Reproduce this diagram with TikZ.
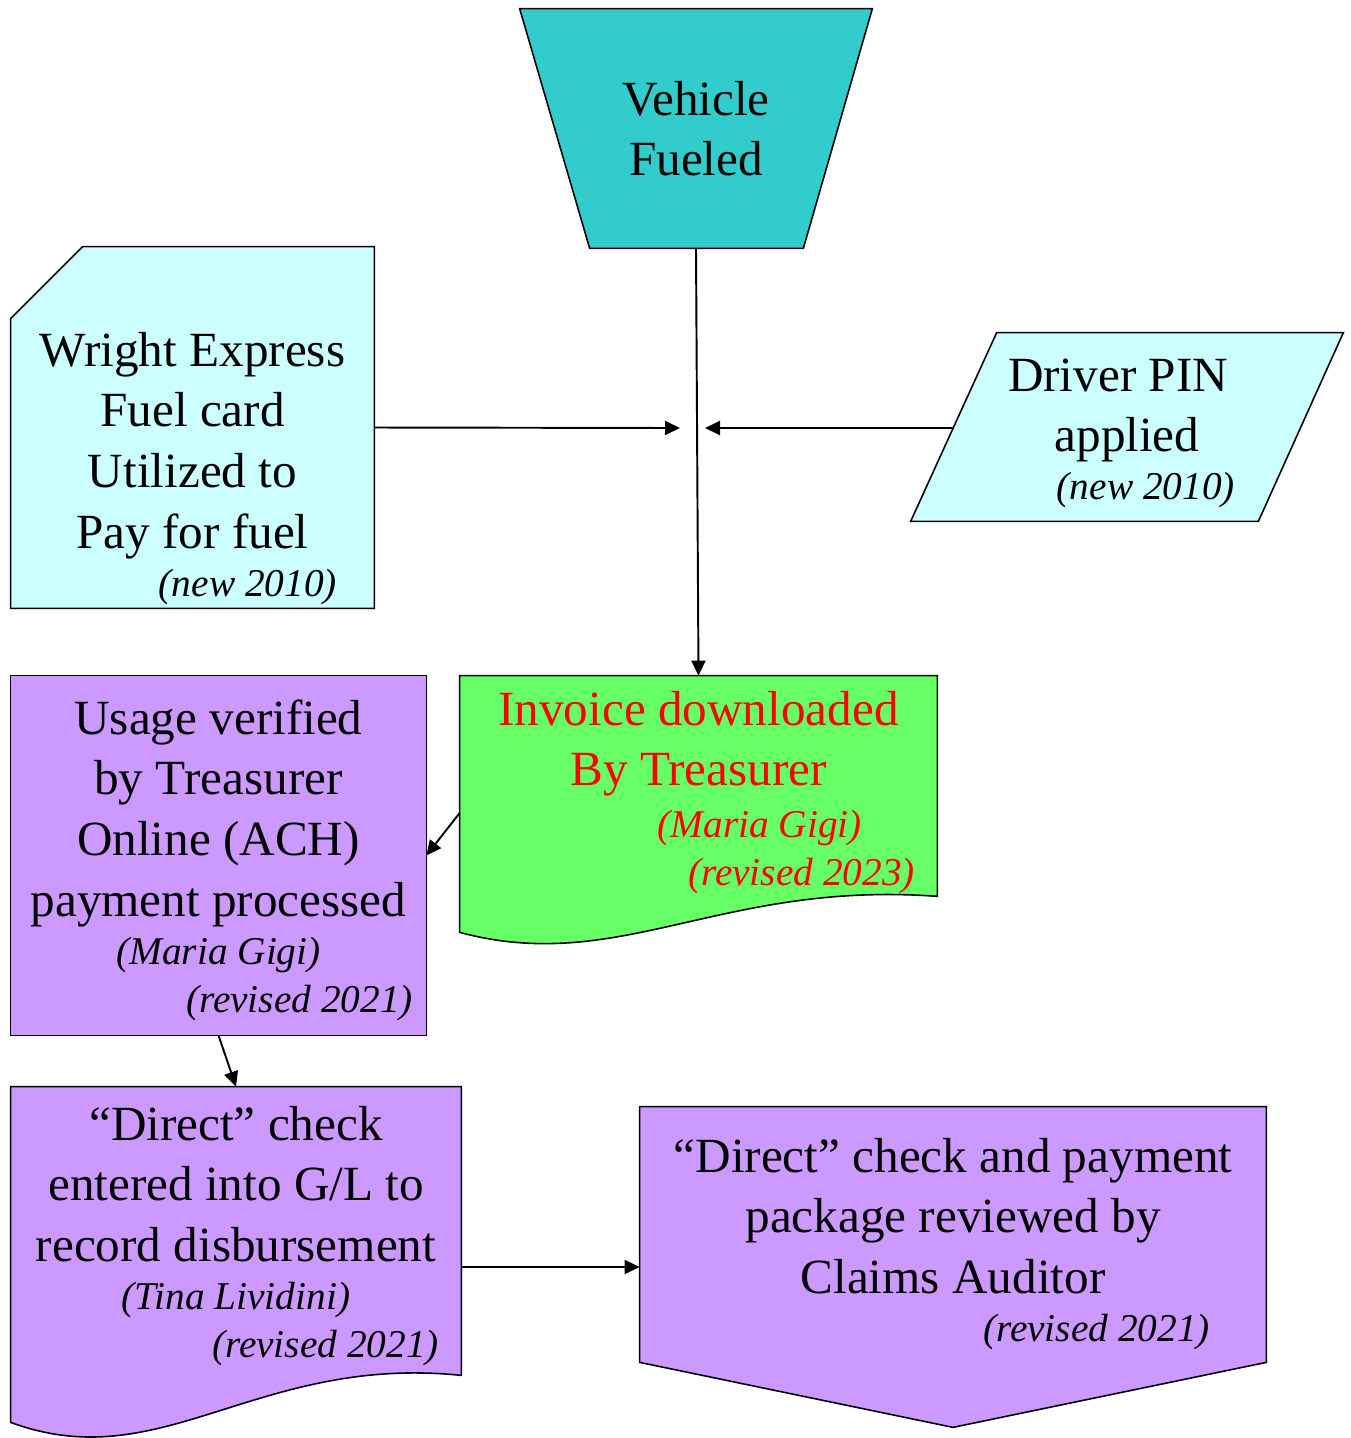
\documentclass[tikz,border=0pt]{standalone}
\usepackage{fontspec}
\setmainfont{Liberation Serif}
\usetikzlibrary{calc}
\usetikzlibrary{arrows.meta}
\usetikzlibrary{backgrounds}

\definecolor{fuelteal}{HTML}{33CCCC}
\definecolor{cardcyan}{HTML}{CCFFFF}
\definecolor{invgreen}{HTML}{66FF66}
\definecolor{procpurple}{HTML}{CC99FF}

\newdimen\pxu \pxu=0.02cm
% block of text: width, height, first baseline, lines
\newcommand\blk[4]{\parbox[c][#2\pxu][t]{#1\pxu}{\centering
  \vspace*{\dimexpr#3\pxu-\baselineskip\relax}\null\par #4}}
\newcommand\nt[1]{{\fontsize{22.4}{27.3}\selectfont\itshape #1\par}}
\newcommand\rnt[2]{\nt{\hfill#1\kern#2\pxu}}

\begin{document}
\begin{tikzpicture}[x=0.02cm, y=-0.02cm,
    every node/.style={inner sep=0pt, font=\fontsize{28}{34.7}\selectfont},
    flow/.style={-{Triangle[length=0.3cm,width=0.28cm]}, line width=1.1pt},
    outline/.style={draw, line width=0.9pt}
  ]
  \useasboundingbox (0,0) rectangle (1351,1438);

  \node (fueled) at (696,128.5) {\blk{352}{239}{106}{Vehicle\\Fueled}};
  \node (wex) at (192.5,427.5) {\blk{363}{361}{119}{Wright Express\\Fuel card\\Utilized to\\Pay for fuel\par
    \rnt{(new 2010)}{37}}};
  \node (pin) at (1127,427) {\blk{432}{188}{58}{\hspace*{-18\pxu}Driver PIN\\applied\par
    \rnt{(new 2010)}{108}}};
  \node[text=red] (inv) at (698.5,804) {\blk{477}{256}{49}{Invoice downloaded\\By Treasurer\par
    \vspace{4\pxu}\rnt{(Maria Gigi)}{75}\rnt{(revised 2023)}{22}}};
  \node (usage) at (218.5,855.5) {\blk{415}{359}{58}{Usage verified\\by Treasurer\\Online (ACH)\\payment processed\par
    \nt{(Maria Gigi)}\rnt{(revised 2021)}{13}}};
  \node (direct) at (236,1254.5) {\blk{450}{335}{53}{“Direct” check\\entered into G/L to\\record disbursement\par
    \nt{(Tina Lividini)}\rnt{(revised 2021)}{22}}};
  \node (claims) at (953,1234.5) {\blk{626}{255}{65}{“Direct” check and payment\\package reviewed by\\Claims Auditor\par
    \rnt{(revised 2021)}{56}}};

  \begin{scope}[on background layer]
    \draw[outline, fill=fuelteal] (fueled.north west) -- (fueled.north east)
      -- ($(fueled.south east)+(-69,0)$) -- ($(fueled.south west)+(70,0)$) -- cycle;
    \draw[outline, fill=cardcyan] (wex.south west) -- (wex.south east) -- (wex.north east)
      -- ($(wex.north west)+(72,0)$) -- ($(wex.north west)+(0,72)$) -- cycle;
    \draw[outline, fill=cardcyan] ($(pin.north west)+(86,0)$) -- (pin.north east)
      -- ($(pin.south east)+(-85,0)$) -- (pin.south west) -- cycle;
    \draw[outline, fill=invgreen] (inv.north west) -- (inv.north east) -- ($(inv.south east)+(0,-36)$)
      .. controls ($(inv.south east)+(-217,-52)$) and ($(inv.south west)+(160,43)$) .. (inv.south west) -- cycle;
    \draw[outline, fill=procpurple] (usage.north west) rectangle (usage.south east);
    \draw[outline, fill=procpurple] (direct.north west) -- (direct.north east) -- ($(direct.south east)+(0,-47)$)
      .. controls ($(direct.south east)+(-205,-68)$) and ($(direct.south west)+(151,56)$) .. (direct.south west) -- cycle;
    \draw[outline, fill=procpurple] (claims.north west) -- (claims.north east) -- (claims.south east)
      -- ($(claims.south)+(0,65)$) -- (claims.south west) -- cycle;
  \end{scope}

  \coordinate (jl) at (680,428);
  \coordinate (jr) at (705,428);
  \coordinate (pin-w) at ($(pin.west)+(43,1)$);
  \coordinate (dc) at ($(direct.east)+(0,12.5)$);

  \draw[flow] (fueled.south) -- (inv.north);
  \draw[flow] (wex.east) -- (jl);
  \draw[flow] (pin-w) -- (jr);
  \draw[flow] ($(inv.west)+(0,9)$) -- (usage.east);
  \draw[flow] (usage.south) -- (direct.north);
  \draw[flow] (dc) -- (dc -| claims.west);
\end{tikzpicture}
\end{document}
